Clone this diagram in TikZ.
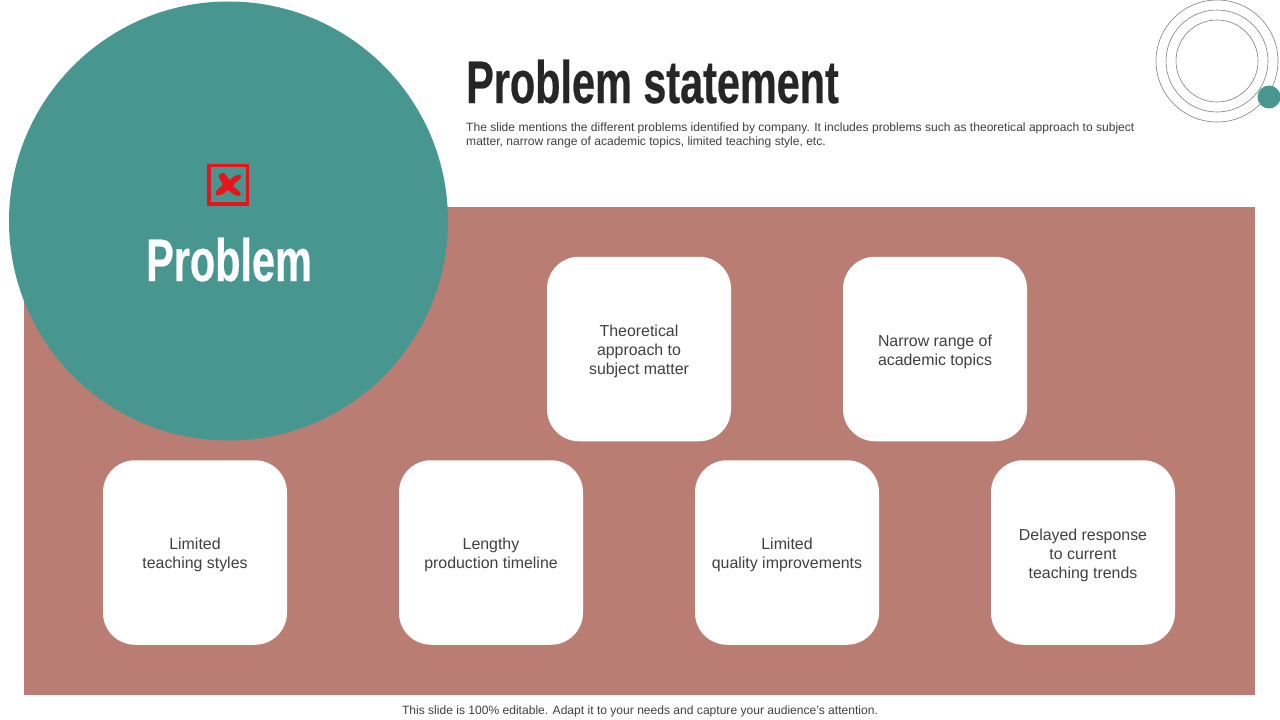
\documentclass[tikz,border=0pt]{standalone}
\usepackage{fontspec}
\setmainfont{Liberation Sans}
\newfontfamily\headfont[FakeStretch=0.69,FakeBold=0.4]{Liberation Sans Bold}
\newcommand{\firstln}{\rule{0pt}{17pt}}
\newcommand{\lastln}{\rule[-4pt]{0pt}{4pt}}
\definecolor{teal}{HTML}{479790}
\definecolor{brick}{HTML}{BA7D73}
\definecolor{ink}{HTML}{404040}
\definecolor{heading}{HTML}{262626}
\definecolor{ringc}{HTML}{7F7F7F}
\definecolor{alert}{HTML}{E8141C}
\tikzset{
  card/.style={draw=none,fill=white,rounded corners=32pt,minimum width=184pt,minimum height=184.5pt,
    align=center,text=ink,font=\fontsize{15.9}{19}\selectfont,inner sep=0pt},
  ring/.style={draw=ringc,line width=0.6pt,circle,inner sep=0pt},
  smalltext/.style={text=ink,font=\fontsize{12.07}{14}\selectfont,inner sep=0pt,align=left},
}
\begin{document}
\begin{tikzpicture}[x=1pt,y=-1pt]
\useasboundingbox (0,0) rectangle (1280,720);
\fill[white] (0,0) rectangle (1280,720);
\fill[brick] (24,207) rectangle (1255,695);
\node[circle,fill=teal,minimum size=439pt,inner sep=0pt] (bigcircle) at (228.5,221) {};
% rings
\node[ring,minimum size=122pt] (ringa) at (1217,61) {};
\node[ring,minimum size=102pt] (ringb) at (1217,61) {};
\node[ring,minimum size=82pt] (ringc) at (1217,61) {};
\node[circle,fill=teal,minimum size=23pt,inner sep=0pt] (dot) at (1269,97) {};
% title
\node[anchor=base west,inner sep=0pt,text=heading,font=\fontsize{60}{60}\headfont] (title) at (466,103) {Problem statement};
\node[smalltext,anchor=base west] (subone) at (466,131) {The slide mentions the different problems identified by company. It includes problems such as theoretical approach to subject};
\node[smalltext,anchor=base west] (subtwo) at (466,145) {matter, narrow range of academic topics, limited teaching style, etc.};
% icon
\node[draw=alert,line width=3.5pt,minimum size=38.5pt,inner sep=0pt] (iconbox) at (228,184.5) {};
\fill[alert] (219,175) .. controls (222,172) and (224,172) .. (226,175)
  .. controls (227,177) and (228,179) .. (230,180)
  .. controls (233,177) and (236,174) .. (241,175)
  .. controls (242,177) and (241,178) .. (239,180)
  .. controls (236,182) and (234,184) .. (233,186)
  .. controls (236,189) and (240,191) .. (241,194)
  .. controls (240,197) and (236,196) .. (233,194)
  .. controls (231,192) and (229,191) .. (227,190)
  .. controls (225,193) and (222,196) .. (216,195)
  .. controls (215,193) and (216,191) .. (218,189)
  .. controls (220,187) and (222,186) .. (223,184)
  .. controls (221,181) and (218,178) .. (219,175) -- cycle;
\node[anchor=base,inner sep=0pt,text=white,font=\fontsize{60}{60}\headfont] (problem) at (229,281) {Problem};
% cards
\node[card] (cardA) at (639,349) {\firstln Theoretical\\approach to\\subject matter\lastln};
\node[card] (cardB) at (935,349) {\firstln Narrow range of\\academic topics\lastln};
\node[card] (cardC) at (195,552.5) {\firstln Limited\\teaching styles\lastln};
\node[card] (cardD) at (491,552.5) {\firstln Lengthy\\production timeline\lastln};
\node[card] (cardE) at (787,552.5) {\firstln Limited\\quality improvements\lastln};
\node[card] (cardF) at (1083,552.5) {\firstln Delayed response\\to current\\teaching trends\lastln};
% footer
\node[smalltext,anchor=base] (footer) at (640,714) {This slide is 100\% editable. Adapt it to your needs and capture your audience's attention.};
\end{tikzpicture}
\end{document}
